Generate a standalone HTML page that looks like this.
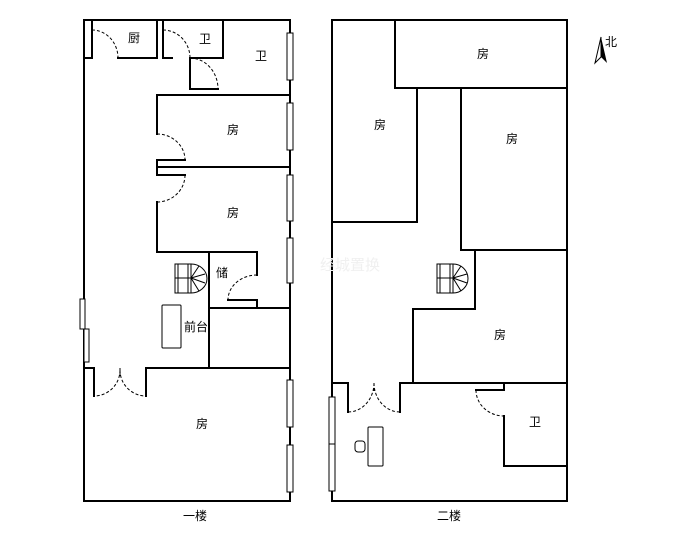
<!DOCTYPE html>
<html><head><meta charset="utf-8"><style>
html,body{margin:0;padding:0;background:#fff;}
svg{display:block;}
text{font-family:"Liberation Sans","Noto Sans CJK SC",sans-serif;font-size:12px;fill:#000;text-anchor:middle;dominant-baseline:middle;}
</style></head><body>
<svg width="689" height="543" viewBox="0 0 689 543" xmlns="http://www.w3.org/2000/svg">
<g stroke="#000" stroke-width="2" fill="none" stroke-linecap="square">
<!-- Floor 1 -->
<path d="M84 20 H290 V501 H84 Z"/>
<path d="M92 20 V58 H84"/>
<path d="M118 58 H157 V20"/>
<path d="M163 20 V58 H172"/>
<path d="M190 58 H223 V20"/>
<path d="M190 58 V89"/>
<path d="M190 89 H218"/>
<path d="M157 95 H290"/>
<path d="M157 95 V134"/>
<path d="M157 160 H185"/>
<path d="M157 160 V175 H185"/>
<path d="M157 167 H290"/>
<path d="M157 202 V252 H257 V275"/>
<path d="M209 252 V368"/>
<path d="M228 300 H257 V308"/>
<path d="M209 308 H290"/>
<path d="M146 368 H290"/>
<path d="M84 368 H94 V396"/>
<path d="M146 368 V396"/>
<!-- Floor 2 -->
<path d="M332 20 H567 V501 H332 Z"/>
<path d="M395 20 V88 H567"/>
<path d="M332 222 H417 V88"/>
<path d="M461 88 V250 H567"/>
<path d="M475 250 V309 H413 V383"/>
<path d="M400 383 H567"/>
<path d="M332 383 H348 V412"/>
<path d="M400 383 V412"/>
<path d="M476 390 H504 V383"/>
<path d="M504 416 V466 H567"/>
</g>
<g stroke="#000" stroke-width="1" fill="none" stroke-dasharray="3,2">
<path d="M92 30 A26 28 0 0 1 118 58"/>
<path d="M163 30 A27 28 0 0 1 190 58"/>
<path d="M190 58 A28 31 0 0 1 218 89"/>
<path d="M157 134 A28 26 0 0 1 185 160"/>
<path d="M185 175 A28 27 0 0 1 157 202"/>
<path d="M257 275 A29 25 0 0 0 228 300"/>
<path d="M120 370 A26 26 0 0 1 94 396"/>
<path d="M120 370 A26 26 0 0 0 146 396"/>
<path d="M120 368 V378"/>
<path d="M374 383 A26 29 0 0 1 348 412"/>
<path d="M374 383 A26 29 0 0 0 400 412"/>
<path d="M374 383 V392"/>
<path d="M476 390 A28 26 0 0 0 504 416"/>
</g>
<g stroke="#000" stroke-width="1" fill="#fff">
<rect x="287" y="33" width="6" height="47"/>
<rect x="287" y="103" width="6" height="47"/>
<rect x="287" y="175" width="6" height="46"/>
<rect x="287" y="238" width="6" height="45"/>
<rect x="287" y="380" width="6" height="47"/>
<rect x="287" y="445" width="6" height="47"/>
<rect x="80" y="299" width="5" height="30"/>
<rect x="84" y="329" width="5" height="33"/>
<rect x="329" y="397" width="6" height="94"/>
<line x1="329" y1="444" x2="335" y2="444"/>
</g>
<g stroke="#000" stroke-width="1" fill="#fff">
<rect x="162" y="305" width="19" height="43" rx="1"/>
<rect x="368" y="427" width="15" height="39" rx="1"/>
<rect x="355" y="441" width="10" height="11" rx="3"/>
</g>
<g stroke="#000" stroke-width="1" fill="none">
<rect x="175" y="264" width="16" height="29"/>
<line x1="175" y1="278" x2="191" y2="278"/>
<line x1="178" y1="264" x2="178" y2="293"/><line x1="188" y1="264" x2="188" y2="293"/>
<path d="M191 264 A16 14.5 0 0 1 191 293"/>
<line x1="191" y1="278" x2="199" y2="266"/><line x1="191" y1="278" x2="205" y2="274"/><line x1="191" y1="278" x2="205" y2="283"/><line x1="191" y1="278" x2="199" y2="291"/>
<rect x="437" y="264" width="16" height="29"/>
<line x1="437" y1="278" x2="453" y2="278"/>
<line x1="440" y1="264" x2="440" y2="293"/><line x1="450" y1="264" x2="450" y2="293"/>
<path d="M453 264 A15 14.5 0 0 1 453 293"/>
<line x1="453" y1="278" x2="461" y2="266"/><line x1="453" y1="278" x2="467" y2="274"/><line x1="453" y1="278" x2="467" y2="283"/><line x1="453" y1="278" x2="461" y2="291"/>
</g>
<path d="M601 37 L595 63 L601 57 Z" fill="#fff" stroke="#000" stroke-width="1"/>
<path d="M601 37 L607 63 L601 57 Z" fill="#000"/>
<text x="611" y="43" style="font-size:12px">北</text>
<text x="350" y="266" style="font-size:15px;fill:#f0f0f0">经城置换</text>
<text x="134" y="39">厨</text>
<text x="205" y="40">卫</text>
<text x="261" y="57">卫</text>
<text x="233" y="131">房</text>
<text x="233" y="214">房</text>
<text x="222" y="274">储</text>
<text x="196" y="328">前台</text>
<text x="202" y="425">房</text>
<text x="195" y="517">一楼</text>
<text x="483" y="55">房</text>
<text x="380" y="126">房</text>
<text x="512" y="140">房</text>
<text x="500" y="336">房</text>
<text x="535" y="423">卫</text>
<text x="449" y="517">二楼</text>
</svg>
</body></html>
